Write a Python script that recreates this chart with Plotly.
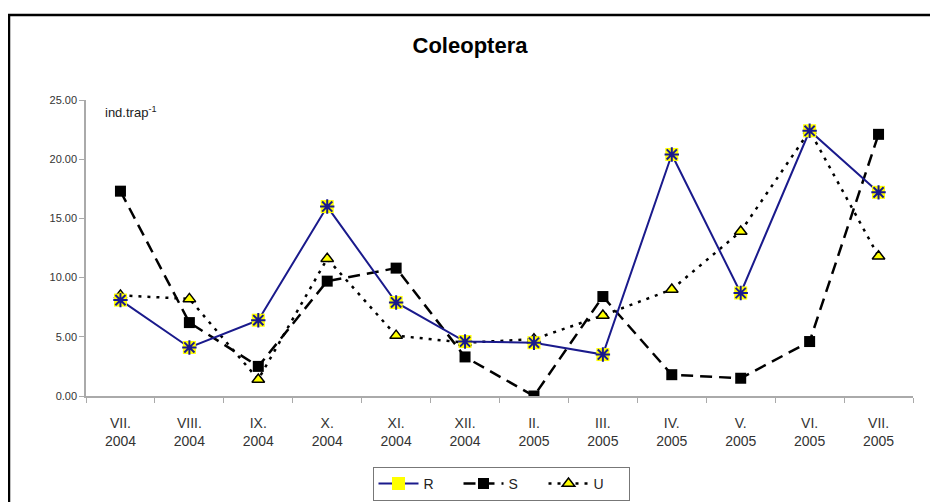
import plotly.graph_objects as go

months = ["VII.", "VIII.", "IX.", "X.", "XI.", "XII.", "II.", "III.", "IV.", "V.", "VI.", "VII."]
years = ["2004", "2004", "2004", "2004", "2004", "2004", "2005", "2005", "2005", "2005", "2005", "2005"]
categories = [f"{m}<br>{y}" for m, y in zip(months, years)]

R_vals = [8.1, 4.1, 6.4, 16.0, 7.9, 4.6, 4.5, 3.5, 20.4, 8.7, 22.4, 17.2]
S_vals = [17.3, 6.2, 2.5, 9.7, 10.8, 3.3, 0.0, 8.4, 1.8, 1.5, 4.6, 22.1]
U_vals = [8.5, 8.2, 1.4, 11.6, 5.1, 4.5, 4.8, 6.8, 9.0, 13.9, 22.4, 11.8]

y_ticks = [0, 5, 10, 15, 20, 25]

OFF = 8  # default page body margin
W, H = 938 - OFF, 502 - OFF
# plot area in page pixels: x 86..913, y 100..396
L, T = 86 - OFF, 100 - OFF
Rm = W - (913 - OFF)
B = H - (396 - OFF)
pw, ph = W - L - Rm, H - T - B

def px_x(p):  # page px -> paper
    return (p - OFF - L) / pw

def px_y(p):
    return (H - B - (p - OFF)) / ph

fig = go.Figure()

fig.add_trace(go.Scatter(
    x=categories, y=S_vals, name="S", mode="lines+markers", legendrank=2,
    line=dict(color="black", width=2.5, dash="12px,7px"),
    marker=dict(symbol="square", size=11, color="black"),
))
fig.add_trace(go.Scatter(
    x=categories, y=U_vals, name="U", mode="lines+markers", legendrank=3,
    line=dict(color="black", width=2.5, dash="3px,6px"),
    marker=dict(symbol="triangle-up", size=11, color="#ffff00",
                line=dict(color="black", width=1.5)),
))
fig.add_trace(go.Scatter(
    x=categories, y=R_vals, name="R", mode="lines+markers", legendgroup="R",
    legendrank=1,
    line=dict(color="#1a1a8c", width=2),
    marker=dict(symbol="square", size=13, color="#ffff00"),
))
fig.add_trace(go.Scatter(
    x=categories, y=R_vals, name="R", mode="markers", legendgroup="R",
    showlegend=False,
    marker=dict(symbol="asterisk-open", size=12, color="#1a1a8c",
                line=dict(color="#1a1a8c", width=2)),
))

fig.update_layout(
    width=W, height=H,
    margin=dict(l=L, r=Rm, t=T, b=B, autoexpand=False),
    paper_bgcolor="white", plot_bgcolor="white",
    font=dict(family="Liberation Sans, Arial, sans-serif", color="#222"),
    title=dict(text="<b>Coleoptera</b>", x=(470 - OFF) / W, xanchor="center",
               y=1 - (45 - OFF) / H, yanchor="middle",
               font=dict(size=22, color="black")),
    showlegend=True,
    legend=dict(orientation="h", x=px_x(501), xanchor="center",
                y=px_y(467), yanchor="top", traceorder="normal",
                bordercolor="#777", borderwidth=1,
                font=dict(size=14, color="#222"),
                itemwidth=40, entrywidth=30,
                bgcolor="white", tracegroupgap=0),
    xaxis=dict(
        type="category", showgrid=False, showline=True, linecolor="#aaa",
        linewidth=1.5, ticks="outside", tickson="boundaries", ticklen=5,
        tickcolor="#aaa", tickfont=dict(size=14, color="#333"),
        ticklabelstandoff=13,
        range=[-0.5, 11.5], fixedrange=True,
    ),
    yaxis=dict(
        range=[0, 25], tickvals=y_ticks, tickformat=".2f", showgrid=False,
        zeroline=False, showline=True, linecolor="#aaa", linewidth=1.5,
        ticks="outside", ticklen=5, tickcolor="#aaa",
        tickfont=dict(size=11, color="#333"), fixedrange=True,
    ),
    annotations=[dict(
        text="ind.trap<sup>-1</sup>", xref="paper", yref="paper",
        x=px_x(103), y=px_y(112), xanchor="left", yanchor="middle",
        showarrow=False, font=dict(size=13, color="#222"),
    )],
    shapes=[dict(
        type="rect", xref="paper", yref="paper",
        x0=px_x(9), x1=px_x(960), y0=px_y(15), y1=px_y(530),
        line=dict(color="black", width=2.5), layer="below",
    )],
)

fig.write_html("out.html")
